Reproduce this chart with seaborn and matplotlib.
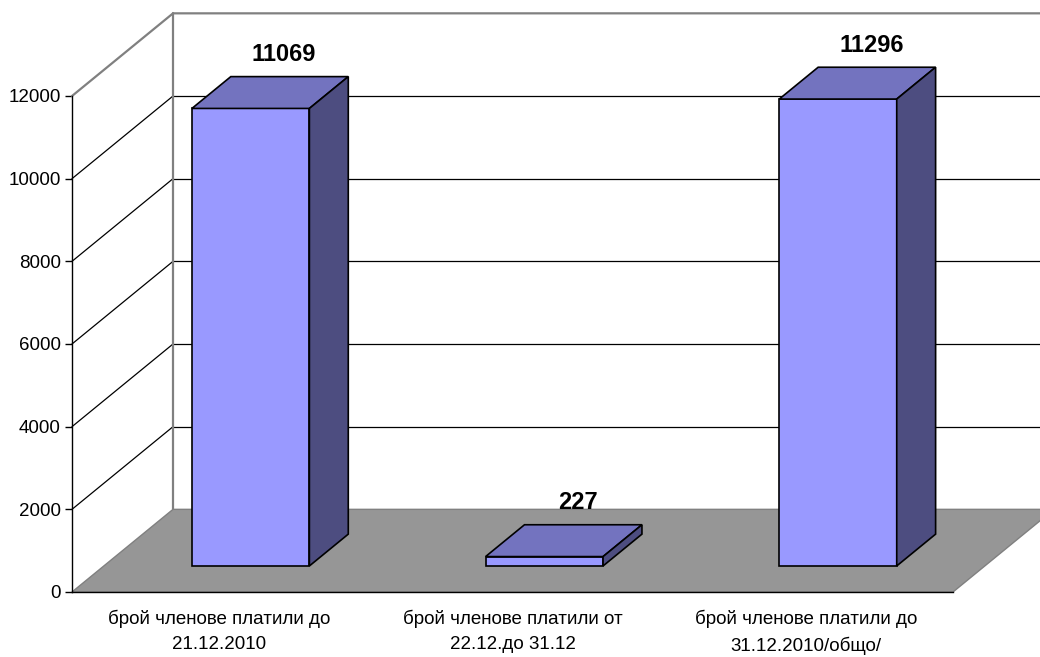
import numpy as np
import matplotlib
matplotlib.use('Agg')
import matplotlib.pyplot as plt
import matplotlib.transforms as mtransforms
from matplotlib.patches import Polygon
import seaborn as sns

# chart data
categories = ['брой членове платили до\n21.12.2010',
              'брой членове платили от\n22.12.до 31.12',
              'брой членове платили до\n31.12.2010/общо/']
values = [11069, 227, 11296]
y_ticks = [0, 2000, 4000, 6000, 8000, 10000, 12000]

sns.set_theme(style='white')
plt.rcParams['font.family'] = ['Liberation Sans', 'DejaVu Sans']

# colours of the 3d faces
front_col = '#9999FF'
top_col = '#7373BF'
side_col = '#4D4D80'
floor_col = '#969696'
wall_edge = '#808080'

fig = plt.figure(figsize=(10.4, 6.57), dpi=100)
ax = fig.add_axes([72/1040, 65/657, 881/1040, 496/657])
ax.set_facecolor('none')

ymax = y_ticks[-1]
x0, x1 = -0.5, len(categories) - 0.5
# depth of the chart box, in data units (x shift, y shift)
DX, DY = 0.344, 2000.0
# bars sit between these fractions of the depth
f0, f1 = 0.315, 0.70

def pt(x, y, d):
    return (x + d * DX, y + d * DY)

# front faces of the bars through seaborn
sns.barplot(x=categories, y=values, ax=ax, width=0.4, color=front_col,
            saturation=1, edgecolor='black', linewidth=1.2, zorder=3)
bars = list(ax.containers[0])

# back wall and left side wall
back = Polygon([pt(x0, 0, 1), pt(x1, 0, 1), pt(x1, ymax, 1), pt(x0, ymax, 1)],
               closed=True, facecolor='white', edgecolor='none', clip_on=False, zorder=0)
ax.add_patch(back)
# gridlines on side wall and back wall
for v in y_ticks[1:-1]:
    ax.plot([x0, x0 + DX], [v, v + DY], color='black', lw=0.9, clip_on=False, zorder=0.5)
    ax.plot([x0 + DX, x1 + DX], [v + DY, v + DY], color='black', lw=0.9, clip_on=False, zorder=0.5)
# wall borders
ax.plot([x0, x0 + DX, x1 + DX], [ymax, ymax + DY, ymax + DY], color=wall_edge, lw=1.6,
        clip_on=False, zorder=0.6)
ax.plot([x0 + DX, x0 + DX], [DY, ymax + DY], color=wall_edge, lw=1.6, clip_on=False, zorder=0.6)

# floor
floor = Polygon([pt(x0, 0, 0), pt(x1, 0, 0), pt(x1, 0, 1), pt(x0, 0, 1)],
                closed=True, facecolor=floor_col, edgecolor=wall_edge, lw=1,
                clip_on=False, zorder=0.7)
ax.add_patch(floor)

shift = mtransforms.Affine2D().translate(f0 * DX, f0 * DY) + ax.transData
for p, val in zip(bars, values):
    p.set_transform(shift)
    p.set_clip_on(False)
    bx0 = p.get_x()
    bx1 = bx0 + p.get_width()
    h = p.get_height()
    top = Polygon([pt(bx0, h, f0), pt(bx1, h, f0), pt(bx1, h, f1), pt(bx0, h, f1)],
                  closed=True, facecolor=top_col, edgecolor='black', lw=1.2,
                  clip_on=False, zorder=3)
    side = Polygon([pt(bx1, 0, f0), pt(bx1, h, f0), pt(bx1, h, f1), pt(bx1, 0, f1)],
                   closed=True, facecolor=side_col, edgecolor='black', lw=1.2,
                   clip_on=False, zorder=3)
    ax.add_patch(top)
    ax.add_patch(side)
    cx, cy = pt((bx0 + bx1) / 2, h, f1)
    ax.annotate(str(val), (cx, cy), xytext=(-4, 16), textcoords='offset points',
                ha='center', va='center', fontsize=17, fontweight='bold',
                color='black', annotation_clip=False)

ax.set_xlim(x0, x1)
ax.set_ylim(0, ymax)
ax.set_yticks(y_ticks)
ax.set_yticklabels([str(t) for t in y_ticks], fontsize=13.5)
ax.set_xticks(range(len(categories)))
ax.set_xticklabels(categories, fontsize=13.5)
ax.set_xticks(np.arange(x0, x1 + 0.01, 1.0), minor=True)
ax.tick_params(axis='x', which='major', length=0, pad=13, colors='black')
ax.tick_params(axis='x', which='minor', length=6, width=1, color='black', direction='out')
ax.tick_params(axis='y', length=5, width=1, color='black', pad=3, left=True, colors='black')
for t in ax.get_xticklabels():
    t.set_linespacing(1.6)
ax.set_xlabel('')
ax.set_ylabel('')
for s in ['top', 'right']:
    ax.spines[s].set_visible(False)
for s in ['left', 'bottom']:
    ax.spines[s].set_color('black')
    ax.spines[s].set_linewidth(1)
    ax.spines[s].set_zorder(4)

fig.savefig('out.png', dpi=100, facecolor='white')
